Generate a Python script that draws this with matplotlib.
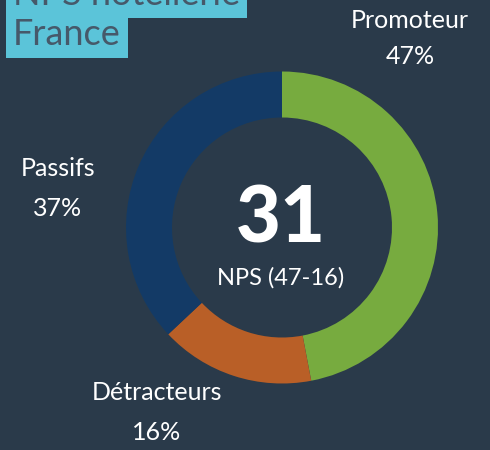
import matplotlib
matplotlib.use("Agg")
import matplotlib.pyplot as plt

# data
categories = ["Promoteur", "Détracteurs", "Passifs"]
shares = [47, 16, 37]
nps_score = 31
nps_detail = "NPS (47-16)"
title_lines = ["NPS hôtellerie", "France"]

colors = ["#77ab3f", "#b95f27", "#133a66"]
bg = "#2a3a4a"

plt.rcParams['font.family'] = ['Lato', 'DejaVu Sans']

fig = plt.figure(figsize=(4.9, 4.5), dpi=100)
fig.patch.set_facecolor(bg)
ax = fig.add_axes([0, 0, 1, 1])
ax.set_facecolor(bg)

H = 450
ax.pie(shares, colors=colors, startangle=90, counterclock=False,
       center=(282, H - 227.5), radius=156, frame=True,
       wedgeprops=dict(width=46, linewidth=0))
ax.set_xlim(0, 490)
ax.set_ylim(0, 450)
ax.set_aspect("auto")
ax.axis("off")

# category labels
label_pos = {"Promoteur": (410, 20, 57), "Détracteurs": (157, 393, 432), "Passifs": (58, 168, 208)}
for cat, val in zip(categories, shares):
    x, y1, y2 = label_pos[cat]
    ax.text(x, H - y1, cat, color="white", fontsize=18, ha="center", va="center")
    ax.text(x, H - y2, f"{val}%", color="white", fontsize=18, ha="center", va="center")

# centre
ax.text(281, H - 220, str(nps_score), color="white", fontsize=56, fontweight="black", ha="center", va="center")
ax.text(281, H - 278, nps_detail, color="white", fontsize=17, ha="center", va="center")

# title boxes
ax.text(13, H - 5, title_lines[0], color="#46596a", fontsize=26, ha="left", va="baseline",
        bbox=dict(boxstyle="square,pad=0.2", fc="#5bc4d9", ec="none"))
ax.text(13, H - 45, title_lines[1], color="#46596a", fontsize=26, ha="left", va="baseline",
        bbox=dict(boxstyle="square,pad=0.2", fc="#5bc4d9", ec="none"))

fig.savefig("out.png", dpi=100, facecolor=bg)
